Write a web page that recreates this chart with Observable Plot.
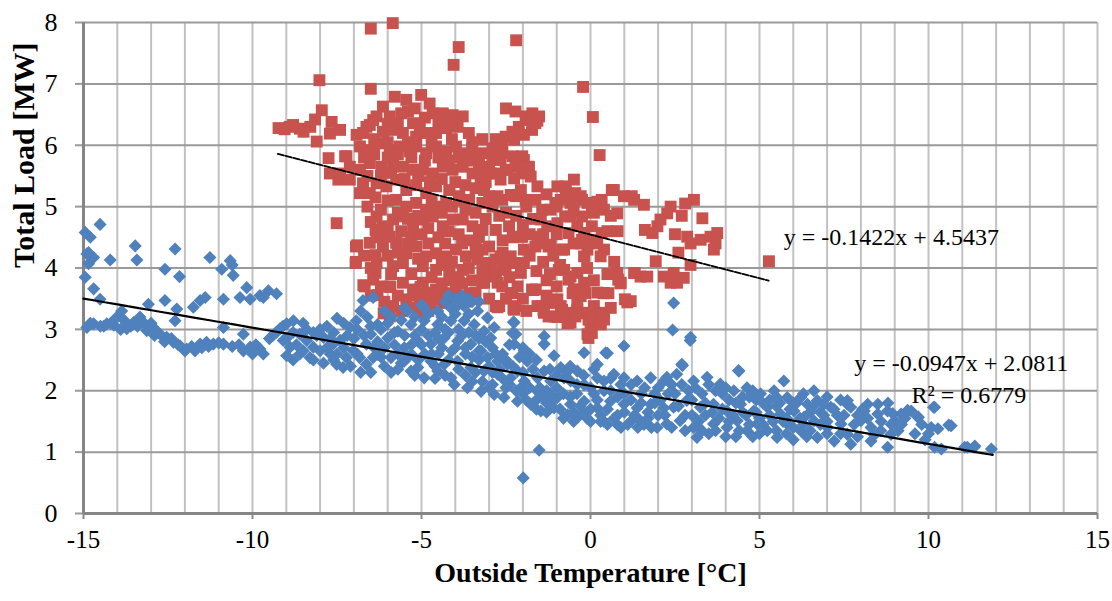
<!DOCTYPE html>
<html>
<head>
<meta charset="utf-8">
<script src="https://cdn.jsdelivr.net/npm/d3@7"></script>
<script src="https://cdn.jsdelivr.net/npm/@observablehq/plot@0.6"></script>
<style>
  html, body { margin: 0; padding: 0; background: #ffffff; }
  #chart { width: 1112px; height: 601px; }
</style>
</head>
<body>
<div id="chart"></div>
<script>
// ---- Data ----
// Series with high load (red squares): [outside temperature °C, total load MW]
const highLoadPoints = [
  [-6.5,7.9],[-5.85,7.99],[-3.9,7.6],[-4.05,7.31],[-8.02,7.06],[-6.5,6.92],[-2.2,7.71],[-0.22,6.95],[0.07,6.46],[0.27,5.84],[-2.5,6.6],
  [-9.23,6.28],[-8.9,6.3],[-8.6,6.27],[-8.49,6.22],[-8.29,6.3],[-8.15,6.42],[-7.95,6.57],[-8.1,6.06],[-7.66,6.38],[-7.41,6.25],[-7.71,6.19],[-8.8,6.33],[-9.05,6.26],
  [-7.71,5.54],[-7.46,5.44],[-7.75,5.79],[-7.22,5.82],[-7.12,5.65],[-7.51,4.73],[-6.94,4.35],[-6.94,4.1],
  [-6.92,6.17],[-6.63,6.3],[-6.43,6.41],
  [-5.79,6.79],[-5.45,6.74],[-5.01,6.82],[-4.76,6.68],[-6.14,6.63],[-6.33,6.47],[-5.94,6.47],[-5.6,6.52],[-5.25,6.36],[-5.05,6.3],[-4.67,6.52],[-4.37,6.52],[-4.08,6.49],[-3.78,6.47],[-3.93,6.3],[-4.27,6.28],[-4.57,6.2],[-4.86,6.2],[-5.16,6.14],[-5.55,6.2],[-5.84,6.25],[-6.14,6.22],[-6.53,6.33],[-6.73,6.2],
  [-2.22,6.55],[-1.92,6.47],[-1.63,6.36],[-1.73,6.25],[-2.12,6.3],[-2.31,6.22],[-2.51,6.14],[-2.61,6.03],[-1.57,6.4],[-1.82,6.41],[-1.97,6.17],[-2.26,6.09],[-1.52,6.47],[-1.72,6.52],
  [-6.82,5.98],[-6.53,5.92],[-6.24,6.03],[-5.94,5.92],[-5.65,5.98],[-5.35,5.9],[-5.16,5.98],[-4.86,5.87],[-4.57,5.98],[-4.27,5.9],[-3.98,5.98],[-3.69,5.87],[-3.39,5.82],[-3.2,5.87],[-2.9,5.82],[-2.61,5.87],[-2.31,5.82],[-2.02,5.82],[-7.26,5.82],[-3.34,5.82],[-2.66,5.76],[-1.97,5.76],
  [-7.41,5.54],[-6.82,5.6],[-6.53,5.71],[-6.19,5.65],[-5.84,5.71],[-5.55,5.65],[-5.25,5.6],[-4.96,5.6],[-4.67,5.54],[-4.37,5.65],[-4.08,5.6],[-3.78,5.65],[-3.49,5.54],[-3.2,5.6],[-3.0,5.65],[-2.8,5.54],[-2.51,5.6],[-2.22,5.65],[-2.02,5.54],[-1.82,5.65],[-2.06,5.65],[-2.46,5.6],[-2.95,5.54],
  [-7.12,5.44],[-6.73,5.38],[-6.82,5.22],[-6.53,5.22],[-6.33,5.38],[-6.04,5.33],[-5.75,5.44],[-5.45,5.27],[-5.16,5.35],[-4.86,5.22],[-4.57,5.33],[-4.18,5.27],[-3.88,5.17],[-3.59,5.11],[-3.2,5.06],[-3.0,5.17],[-2.61,5.11],[-2.22,5.17],[-1.92,5.11],[-1.63,5.11],[-1.43,4.95],[-3.25,5.44],[-2.66,5.44],[-2.26,5.46],[-1.77,5.49],[-1.57,5.33],[-2.06,5.27],[-2.36,5.19],[-2.75,5.17],[-3.15,5.27],[-6.36,5.15],
  [-0.98,5.33],[-0.73,5.25],[-0.49,5.44],[-0.88,5.11],[-0.59,5.06],[-0.29,5.17],[-0.09,5.06],[0.2,5.08],[0.4,4.95],[0.69,5.27],[0.79,4.89],[0.99,5.17],[1.29,5.11],[1.58,5.03],[2.37,5.0],[2.27,4.89],[2.07,4.79],[1.98,4.68],[1.83,4.57],[3.06,5.11],[3.31,4.81],[2.86,4.51],[2.96,4.4],[3.26,4.46],[3.55,4.51],[3.75,4.57],[3.7,4.4],[3.65,4.3],[5.28,4.11],[2.96,4.05],[1.93,4.11],
  [-1.18,4.95],[-1.47,4.79],[-1.28,4.68],[-0.98,4.73],[-0.59,4.84],[-0.39,4.68],[-0.19,4.57],[0.0,4.46],[0.2,4.4],[0.4,4.3],[-0.29,4.4],[-0.09,4.3],[0.3,4.19],[-0.19,4.19],[-0.78,4.3],[-1.18,4.38],[-1.57,4.4],[-1.52,4.51],[-2.06,4.51],[-1.97,4.3],[-2.36,4.19],[-2.66,4.19],[-2.95,4.08],[-2.56,3.97],[-2.26,4.08],[-1.97,4.08],[-2.06,3.92],[-2.16,3.7],[-2.36,3.59],[-2.75,3.76],[-3.15,3.76],[-2.95,3.92],[-3.34,4.14],
  [-0.78,3.97],[-0.59,3.86],[-0.39,3.92],[-0.19,3.76],[-0.49,3.65],[-0.29,3.54],[0.4,3.59],[0.79,3.92],[0.89,3.76],[1.19,3.46],[1.29,3.92],[1.48,3.86],[1.68,3.86],[2.17,3.86],[2.37,3.76],[2.56,3.76],[2.76,3.84],[2.46,3.92],
  [-1.62,3.65],[-1.57,3.38],[-1.38,3.27],[-1.08,3.21],[-0.88,3.38],[-0.69,3.27],[-0.59,3.11],[-0.39,3.32],[-0.19,3.27],[0.0,3.16],[0.2,3.21],[0.4,3.16],[0.3,3.08],[0.0,3.0],[-0.09,2.92],[-2.26,3.32],[-2.7,3.38],[-0.98,3.49],[-1.18,3.43],[-0.39,3.43],[0.1,3.38],
  [-6.33,4.84],[-6.14,4.68],[-5.84,4.79],[-5.55,4.84],[-5.25,4.68],[-4.96,4.79],[-4.67,4.84],[-4.37,4.68],[-4.08,4.79],[-3.78,4.79],[-3.49,4.68],[-3.2,4.62],[-2.8,4.62],[-2.41,4.68],[-2.02,4.51],[-1.63,4.35],[-1.24,4.35],[-0.84,4.3],[-6.33,4.57],[-5.94,4.51],[-5.75,5.11],[-5.45,5.0],[-5.16,5.06],[-4.86,4.95],[-4.57,5.0],[-4.27,5.06],[-6.36,4.62],
  [-6.53,4.41],[-6.14,4.35],[-5.75,4.41],[-5.45,4.24],[-5.16,4.35],[-4.86,4.19],[-4.57,4.24],[-4.27,4.19],[-3.98,4.3],[-3.69,4.19],[-3.39,4.24],[-3.1,4.08],[-2.8,4.14],[-2.51,4.03],[-2.22,4.08],[-6.33,4.08],[-5.84,4.03],[-5.55,4.08],[-4.96,4.03],[-4.57,3.97],[-4.18,3.92],[-3.78,3.97],[-6.36,4.21],[-6.9,4.37],[-6.95,4.08],[-6.36,3.92],
  [-6.43,3.81],[-5.94,3.7],[-5.55,3.76],[-5.25,3.65],[-4.96,3.76],[-4.57,3.65],[-4.27,3.59],[-3.98,3.7],[-3.59,3.59],[-3.2,3.76],[-2.9,3.86],[-2.61,3.7],[-2.31,3.59],[-1.73,3.65],[-6.68,3.7],[-5.84,3.38],[-5.45,3.49],[-5.06,3.43],[-4.67,3.49],[-4.37,3.43],[-4.96,3.27],[-5.94,3.21],[-2.8,3.38],[-2.22,3.38],[1.02,3.49],[-6.72,3.72],[-6.3,3.56],
  [-0.94,3.97],[-0.65,3.81],[-0.35,3.65],[-0.16,3.59],[-0.84,3.32],[-0.45,3.21],[-0.06,3.16],[0.24,3.11],[0.04,2.94],[-0.06,2.86],[-0.65,3.11],[-1.43,3.38],[-1.24,3.21],[0.33,3.27],[0.53,3.59],[0.82,3.81],[1.31,3.92],[1.61,4.62],[1.22,5.17],
  [-0.75,5.33],[-0.45,5.22],[-0.25,5.11],[0.04,5.0],[0.33,5.11],[0.63,5.27],[-0.25,4.84],[0.04,4.68],[0.33,4.57],[-0.25,4.46],[-0.65,4.57],[-0.75,4.84],[-1.04,5.06],
  [-5.92,3.69],[-5.03,3.69],[-4.53,3.59],[-4.23,3.47],[-4.73,3.42],[-4.05,3.53],[-6.12,3.26],[-2.75,3.36],[-2.28,3.34],[-1.69,3.64],[-1.39,3.31],[-0.98,3.2],[-0.68,3.1],[-0.38,3.26],[0.0,3.2],[0.3,3.1],[0.38,3.26],[-0.53,3.59],[0.38,3.59],[1.09,3.44],[0.89,3.75],
  [-6.7,5.8],[-6.6,5.5],[-6.4,5.85],[-6.2,5.5],[-6.0,5.8],[-5.9,5.55],[-5.7,5.85],[-5.5,5.45],[-5.3,5.8],[-5.1,5.5],[-4.9,5.75],[-4.75,5.4],[-4.5,5.8],[-4.4,5.45],[-4.2,5.75],[-4.0,5.4],[-3.9,5.8],[-3.7,5.35],[-3.6,5.75],[-3.4,5.3],[-3.3,5.7],[-3.1,5.4],
  [-6.6,5.0],[-6.5,4.75],[-6.2,4.95],[-6.0,5.1],[-6.0,4.65],[-5.7,4.9],[-5.6,4.6],[-5.4,4.8],[-5.3,4.5],[-5.1,4.85],[-5.0,4.55],[-4.8,4.65],[-4.7,5.1],[-4.5,4.5],[-4.4,4.9],[-4.2,4.6],[-4.1,5.0],[-3.9,4.55],[-3.9,5.1],[-3.7,4.95],[-3.6,4.45],[-3.4,4.9],[-3.3,4.5],[-3.1,4.8],[-2.9,5.0],[-2.7,4.85],[-2.6,4.45],[-2.5,4.9],[-2.3,4.5],[-2.2,4.85],[-2.0,4.7],[-1.9,5.0],[-1.8,4.55],[-1.7,4.8],
  [-6.7,4.2],[-6.5,4.0],[-6.2,4.5],[-6.0,4.2],[-5.9,3.9],[-5.7,4.25],[-5.4,4.4],[-5.3,3.9],[-5.1,4.15],[-4.8,4.4],[-4.7,3.85],[-4.4,4.05],[-4.3,4.4],[-4.1,4.1],[-3.9,3.85],[-3.8,4.4],[-3.6,4.0],[-3.5,3.8],[-3.4,4.4],[-3.2,4.3],[-3.2,3.95],[-3.0,4.35],[-2.8,3.95],[-2.6,4.25],[-2.4,3.85],[-1.8,4.2],[-1.6,3.95],[-1.4,4.1],[-1.2,3.9],[-1.1,4.2],[-1.0,4.55],[-0.9,4.05],
  [-6.5,3.55],[-6.2,3.7],[-6.1,3.45],[-5.7,3.55],[-5.6,3.3],[-5.3,3.35],[-5.2,3.55],[-4.9,3.6],[-4.8,3.3],[-4.4,3.75],[-4.1,3.8],[-3.8,3.75],[-3.7,3.45],[-3.4,3.6],[-3.0,3.5],[-2.5,3.5],[-2.0,3.5],[-1.9,3.3],[-1.3,3.55],
  [-6.4,6.1],[-6.0,6.35],[-5.7,6.35],[-5.4,6.55],[-5.2,6.6],[-4.9,6.45],[-4.5,6.35],[-4.2,6.35],[-3.6,6.2],[-3.5,6.05],[-3.2,6.1],[-2.8,6.1],[-2.9,5.95],[-3.5,5.95],[-4.1,6.1],[-4.7,6.05],[-5.4,6.05],[-6.0,6.05],
  [0.5,4.6],[0.6,4.85],[0.8,4.6],[0.7,4.1],[2.5,4.55],[2.6,4.25],[2.7,4.85],[2.8,5.05],[0.5,3.9],[0.1,3.8],[-0.1,4.0],[0.2,3.6],[0.6,3.35],[-1.0,3.7],[-1.3,3.8],[0.1,4.9],[-0.5,4.95],[-0.5,4.4],[-1.0,5.0],[-1.3,5.2],[-1.4,4.55]
];

// Series with low load (blue diamonds): [outside temperature °C, total load MW]
const lowLoadPoints = [
  [-14.51,4.71],[-14.95,4.58],[-14.8,4.5],[-14.9,4.23],[-14.7,4.17],[-14.85,4.07],[-14.21,4.13],[-14.95,3.85],[-14.7,3.66],[-14.51,3.49],[-13.47,4.36],[-13.42,4.13],[-12.59,3.98],[-12.29,4.31],[-12.16,3.86],[-12.59,3.47],[-12.24,3.33],[-12.29,3.14],[-13.08,3.41],[-11.26,4.17],[-10.91,3.98],[-10.66,4.12],[-10.57,3.88],[-10.86,3.49],[-11.75,3.36],[-11.55,3.47],[-11.4,3.52],[-10.37,3.52],[-10.17,3.68],[-10.07,3.49],[-9.78,3.55],[-9.53,3.63],[-9.29,3.58],[-9.68,3.52],[-10.6,4.05],[-14.85,4.25],
  [-14.9,3.03],[-14.7,3.09],[-14.31,3.09],[-14.01,3.2],[-13.87,3.3],[-13.72,3.01],[-13.52,3.11],[-13.33,3.2],[-13.13,2.98],[-12.93,3.03],[-12.73,2.92],[-12.54,2.87],[-12.34,2.79],[-12.14,2.73],[-11.95,2.68],[-11.55,2.76],[-11.36,2.79],[-11.16,2.76],[-10.86,2.76],[-10.86,3.03],[-10.27,2.92],[-10.27,2.65],[-10.07,2.71],[-9.78,2.68],[-9.68,2.6],[-14.5,3.05],[-14.1,3.07],[-13.9,3.0],[-13.6,3.05],[-12.9,2.9],[-11.8,2.72],[-11.65,2.7],[-13.0,3.1],
  [-14.8,3.1],[-14.4,3.05],[-14.2,3.1],[-13.8,3.15],[-13.4,3.05],[-13.2,3.1],[-12.8,2.95],[-12.6,2.8],[-12.4,2.85],[-12.2,2.75],[-12.0,2.65],[-11.7,2.65],[-11.5,2.7],[-11.3,2.72],[-11.0,2.78],[-10.6,2.72],[-10.4,2.75],[-10.0,2.6],[-9.9,2.75],[-9.5,2.85],[-9.3,2.95],[-9.1,3.05],
  [-9.19,3.01],[-8.99,3.09],[-8.79,3.14],[-9.09,2.82],[-8.89,2.71],[-8.99,2.57],[-8.6,2.92],[-8.4,2.82],[-8.2,2.71],[-8.3,2.54],[-8.0,2.65],[-7.7,2.6],[-7.51,2.43],[-7.32,2.38],[-7.22,2.54],[-7.02,2.65],[-7.12,3.03],[-6.93,3.14],[-6.73,3.47],[-6.43,3.52],[-6.63,2.76],[-6.43,2.54],[-6.63,2.43],[-6.83,2.54],[-7.61,2.76],[-7.9,2.87],[-7.41,2.82],[-8.6,2.6],[-8.4,3.0],[-8.1,2.9],[-7.8,3.05],[-7.6,2.95],[-7.3,3.1],[-7.0,2.85],[-8.5,3.1],[-7.9,2.45],[-7.1,2.4],[-6.8,2.3],[-6.5,2.3],[-6.3,2.8],[-6.2,3.0],[-6.5,3.05],[-6.8,3.3],[-6.6,3.2],[-7.5,3.18],[-9.4,2.9],
  [-9.0,2.85],[-8.8,2.95],[-8.7,2.75],[-8.5,2.65],[-8.2,2.95],[-8.0,3.0],[-7.8,2.7],[-7.7,2.85],[-7.5,2.6],[-7.3,2.7],[-7.2,2.9],[-6.9,2.6],[-6.9,3.0],[-6.7,2.9],[-6.4,2.7],[-6.2,2.55],[-8.2,2.5],[-7.6,2.5],[-8.8,2.5],
  [-5.41,3.3],[-4.92,3.35],[-4.52,3.3],[-4.13,3.35],[-3.74,3.38],[-3.34,3.3],[-3.05,3.19],[-2.85,3.03],[-6.3,3.08],[-6.5,2.92],[-6.0,2.86],[-5.7,2.97],[-5.31,3.08],[-4.92,3.14],[-4.52,3.08],[-4.13,3.14],[-3.74,3.14],[-3.44,3.08],[-3.15,2.97],[-2.95,2.86],[-2.26,3.11],[-2.21,2.92],[-2.26,2.76],[-1.96,2.65],[-1.87,2.48],[-5.51,2.7],[-5.11,2.81],[-4.72,2.76],[-4.33,2.86],[-3.93,2.81],[-3.54,2.76],[-3.24,2.65],[-3.05,2.54],[-2.75,2.48],[-2.46,2.43],[-2.16,2.32],
  [-6.3,2.59],[-5.9,2.54],[-5.51,2.48],[-5.11,2.38],[-4.72,2.48],[-4.33,2.43],[-3.93,2.48],[-3.54,2.38],[-3.15,2.32],[-2.75,2.27],[-2.36,2.21],[-1.96,2.16],[-1.57,2.21],[-1.37,2.32],[-1.18,2.16],[-0.78,2.21],[-0.59,2.16],[-0.39,2.32],[-0.19,2.1],[0.2,2.21],[0.4,2.16],[0.69,2.27],[0.99,2.21],[1.38,2.16],[1.78,2.21],[2.17,2.16],
  [-4.03,2.1],[-3.64,2.05],[-3.24,1.99],[-2.85,1.94],[-2.56,1.89],[-2.16,1.83],[-1.77,1.78],[-1.47,1.67],[-1.08,1.72],[-0.68,1.61],[-0.39,1.56],[0.0,1.5],[0.4,1.5],[0.79,1.45],[1.19,1.5],[1.58,1.45],[1.97,1.4],[-0.98,1.89],[-0.59,1.78],[-0.19,1.83],[0.2,1.72],[0.59,1.83],[0.99,1.78],[1.38,1.72],[1.78,1.78],[2.17,1.72],[-2.06,2.05],[-1.57,1.99],[-1.18,1.94],[-4.13,2.21],[-4.52,2.32],[-4.92,2.21],[-5.31,2.32],
  [-5.8,2.75],[-5.3,2.6],[-4.9,2.6],[-4.5,2.6],[-4.1,2.65],[-3.7,2.6],[-3.3,2.5],[-2.9,2.7],[-5.6,3.15],[-5.0,3.0],[-4.6,2.95],[-4.3,3.0],[-3.9,3.0],[-3.6,2.95],[-3.3,2.85],[-5.2,2.9],[-5.9,2.3],[-6.1,2.4],[-4.0,3.5],[-3.8,3.55],[-4.3,3.45],[-3.5,3.45],[-5.9,3.2],[-5.6,2.45],[-3.2,2.15],[-2.9,2.1],[-2.5,2.05],[-2.6,2.6],[-2.4,2.75],[-3.7,2.25],[-4.3,2.25],[-2.0,1.95],[-1.6,1.85],[-1.3,1.8],
  [-6.1,2.7],[-6.0,3.1],[-5.8,2.95],[-5.7,2.6],[-5.5,2.9],[-5.4,2.55],[-5.3,2.75],[-5.2,3.2],[-5.1,2.5],[-5.0,2.75],[-4.8,2.9],[-4.8,3.25],[-4.7,2.6],[-4.6,2.4],[-4.5,2.85],[-4.4,3.2],[-4.4,2.7],[-4.2,2.5],[-4.2,2.95],[-4.0,2.7],[-4.0,3.25],[-3.9,2.35],[-3.8,2.9],[-3.7,2.7],[-3.6,3.25],[-3.5,2.55],[-3.4,2.9],[-3.4,2.3],[-3.3,2.65],[-3.1,2.8],[-3.0,2.4],[-2.9,2.3],[-3.5,2.15],[-3.0,2.05],[-4.6,2.2],[-5.2,2.25],[-5.7,2.35],[-4.2,3.55],[-3.9,3.4],[-3.6,3.5],[-3.3,3.45],[-5.0,3.4],[-5.5,3.35],[-6.1,3.3],
  [-2.8,2.6],[-2.7,2.35],[-2.6,2.2],[-2.5,2.5],[-2.4,2.1],[-2.3,2.4],[-2.2,2.0],[-2.1,2.55],[-2.0,2.3],[-1.9,1.85],[-1.8,2.05],[-1.7,2.35],[-1.6,1.7],[-1.5,2.05],[-1.4,1.9],[-1.3,1.65],[-1.2,2.35],[-1.1,1.85],[-1.0,2.25],[-0.9,1.7],[-0.8,1.95],[-0.7,2.3],[-0.6,1.9],[-0.5,1.65],[-0.4,2.1],[-0.3,1.75],[-0.2,2.25],[0.0,1.7],[0.0,2.05],[0.1,2.35],[0.2,1.85],[0.3,1.5],[0.4,2.0],[0.5,1.7],[0.6,2.2],[0.7,1.55],[0.8,1.9],[0.9,2.1],[1.0,1.65],[1.1,1.45],[1.2,1.85],[1.2,2.1],[1.4,1.55],[1.5,1.8],[1.6,2.05],[1.7,1.65],[1.9,1.8],[2.0,2.05],[-0.5,1.5],[-0.1,1.55],[0.5,1.45],[0.9,1.4],[1.4,1.4],[1.8,1.4],[-1.8,2.6],[-2.0,2.7],[-1.6,2.5],
  [-1.52,1.03],[-1.99,0.58],[-1.08,2.57],[-1.37,2.76],[-0.88,2.38],[-0.19,2.62],[0.45,2.62],[0.99,2.73],[0.2,2.43],[-1.37,2.89],[2.46,3.43],[2.43,2.99],[2.96,2.87],[2.72,2.41],[4.38,2.33],[0.5,2.61],[-2.28,3.12],[-2.31,2.94],[-0.6,2.4],
  [-1.0,2.05],[-0.4,1.95],[0.1,1.95],[0.6,2.0],[1.0,1.95],[1.5,1.95],[1.9,1.95],[-0.8,1.55],[-0.2,1.65],[0.3,1.6],[0.8,1.6],[1.3,1.6],[1.7,1.55],[2.0,1.6],[-1.3,2.0],
  [2.26,2.22],[2.55,2.27],[3.05,2.16],[3.45,2.22],[3.84,2.11],[4.24,2.0],[4.63,2.05],[5.03,1.95],[5.43,2.0],[5.82,1.89],[6.22,1.89],[6.42,1.78],[6.71,1.84],[7.11,1.73],[7.6,1.78],[7.7,1.73],[8.05,1.7],[8.5,1.78],[8.79,1.67],[9.39,1.67],[9.69,1.57],[10.18,1.73],[10.28,1.38],[10.67,1.43],[8.0,1.51],[8.3,1.4],[8.59,1.35],[8.89,1.29],[8.79,1.08],[8.3,1.18],[7.7,1.13],[7.6,1.29],[7.21,1.18],[7.41,1.46],[7.01,1.4],[6.61,1.51],[6.71,1.24],[6.22,1.35],[5.82,1.46],[5.52,1.24],[5.23,1.35],[4.93,1.46],[4.63,1.35],[4.34,1.51],[4.04,1.4],[3.64,1.46],[3.15,1.24],[3.05,1.4],[2.65,1.51],[2.26,1.46],[10.18,1.08],[10.38,1.05],[11.07,1.08],[11.37,1.1],[11.86,1.05],[2.06,1.84],[2.46,1.73],[2.85,1.84],[3.25,1.73],[3.64,1.78],[4.04,1.67],[4.44,1.78],[4.83,1.67],[5.23,1.73],[5.62,1.62],[6.02,1.67],[6.32,1.57],[5.72,2.16],[6.61,2.0],[6.91,1.78],[7.6,1.84],[8.1,1.67],[8.5,1.62],[9.19,1.62],[9.49,1.67],[9.0,1.51],[10.08,1.4],[2.95,2.82],[2.7,2.43],[4.39,2.32],
  [2.5,1.95],[2.9,2.0],[3.3,1.95],[3.7,2.0],[4.1,1.85],[4.5,1.9],[4.9,1.85],[5.3,1.85],[5.6,1.8],[6.0,1.8],[3.0,1.6],[3.4,1.6],[3.8,1.55],[4.2,1.6],[4.6,1.6],[5.0,1.55],[5.4,1.5],[5.8,1.55],[6.2,1.55],[6.5,1.65],[6.9,1.6],[7.3,1.6],[7.9,1.6],[4.0,1.25],[4.8,1.25],[6.0,1.2],[6.5,1.35],[7.0,1.3],[3.5,1.3],[2.8,1.35],[9.6,1.3],[9.2,1.45],[9.9,1.2],[10.15,1.73],[10.6,1.44],[9.7,1.57],[9.38,1.68],[8.94,1.63],[11.15,1.08],[11.35,1.08],
  [2.2,1.6],[2.3,1.95],[2.4,1.4],[2.6,1.75],[2.7,2.1],[2.8,1.6],[3.0,1.85],[3.1,2.05],[3.2,1.5],[3.3,1.35],[3.4,1.8],[3.6,1.65],[3.7,1.35],[3.9,1.7],[3.9,1.95],[4.1,1.5],[4.3,1.8],[4.4,1.35],[4.5,1.65],[4.7,1.9],[4.7,1.45],[4.9,1.65],[5.1,1.8],[5.1,1.45],[5.3,1.6],[5.5,1.35],[5.5,1.75],[5.7,1.5],[5.9,1.7],[6.0,1.4],[6.1,1.8],[6.3,1.45],[6.4,1.25],[6.6,1.75],[6.8,1.45],[6.8,1.65],[7.0,1.5],[7.2,1.7],[7.4,1.3],[7.5,1.6],[7.8,1.45],[7.9,1.25],[8.2,1.55],[8.4,1.28],[8.6,1.5],[8.9,1.45],[9.1,1.35],[9.3,1.55],[9.8,1.45],[10.0,1.3],[5.0,1.3],[5.8,1.3],[4.3,1.25],[3.1,1.55],[2.4,2.1],[3.5,2.1],[4.0,2.05],[4.8,2.0],[5.5,1.9],[6.3,1.95],[7.0,1.9],[7.4,1.85],[8.2,1.78],[8.8,1.8]
];

// Linear trendlines (as printed on the chart)
const trendSeries = ["high", "low"];
const trendSlopes = [-0.1422, -0.0947];
const trendIntercepts = [4.5437, 2.0811];
const trendXStart = [-9.25, -15];
const trendXEnd = [5.27, 11.9];

// Labels and ticks
const trendLabels = ["y = -0.1422x + 4.5437", "y = -0.0947x + 2.0811", "R\u00B2 = 0.6779"];
const xTicks = [-15, -10, -5, 0, 5, 10, 15];
const xGridTicks = [-15,-14,-13,-12,-11,-10,-9,-8,-7,-6,-5,-4,-3,-2,-1,0,1,2,3,4,5,6,7,8,9,10,11,12,13,14,15];
const yTicks = [0, 1, 2, 3, 4, 5, 6, 7, 8];
const xTitle = "Outside Temperature [\u00B0C]";
const yTitle = "Total Load [MW]";

// ---- Build tables ----
const trendLines = trendSeries.flatMap((s, i) => [
  {series: s, x: trendXStart[i], y: trendSlopes[i] * trendXStart[i] + trendIntercepts[i]},
  {series: s, x: trendXEnd[i], y: trendSlopes[i] * trendXEnd[i] + trendIntercepts[i]}
]);
const highLine = trendLines.filter(d => d.series === "high");
const lowLine = trendLines.filter(d => d.series === "low");

const serif = "Liberation Serif";

const chart = Plot.plot({
  width: 1112,
  height: 601,
  marginLeft: 83,
  marginRight: 15,
  marginTop: 22,
  marginBottom: 88,
  style: {fontFamily: serif, fontSize: "26px", color: "#000", background: "#fff", overflow: "visible"},
  x: {domain: [-15, 15]},
  y: {domain: [0, 8]},
  marks: [
    Plot.gridX(xGridTicks, {stroke: "#c2c2c2", strokeOpacity: 1, strokeWidth: 2}),
    Plot.gridY(yTicks, {stroke: "#9a9a9a", strokeOpacity: 1, strokeWidth: 2}),
    Plot.axisY(yTicks, {tickSize: 8, stroke: "#9a9a9a", strokeWidth: 2, label: null, tickFormat: () => ""}),
    Plot.axisX(xTicks, {tickSize: 6, stroke: "#8a8a8a", strokeWidth: 2, label: null, tickFormat: () => ""}),
    Plot.text(yTicks, {y: d => d, frameAnchor: "left", dx: -26, text: d => String(d), textAnchor: "end", fontSize: 26, fontFamily: serif, fill: "#000"}),
    Plot.text(xTicks, {x: d => d, frameAnchor: "bottom", dy: 34, text: d => String(d), fontSize: 25, fontFamily: serif, fill: "#000"}),
    Plot.ruleX([-15], {stroke: "#858585", strokeWidth: 3}),
    Plot.ruleY([0], {stroke: "#858585", strokeWidth: 3}),
    Plot.dot(highLoadPoints, {x: d => d[0], y: d => d[1], symbol: "square", r: 6.7, fill: "#C8524D", stroke: "none"}),
    Plot.dot(lowLoadPoints, {x: d => d[0], y: d => d[1], symbol: "diamond2", r: 5.9, fill: "#4F81BD", stroke: "none"}),
    Plot.line(highLine, {x: "x", y: "y", stroke: "#000", strokeWidth: 2, strokeDasharray: "6,2"}),
    Plot.line(lowLine, {x: "x", y: "y", stroke: "#000", strokeWidth: 2.2, strokeDasharray: "10,1.5"}),
    Plot.text([trendLabels[0]], {x: 5.72, y: 4.5, text: d => d, textAnchor: "start", fontSize: 24, fontFamily: serif, fill: "#000"}),
    Plot.text([trendLabels[1]], {x: 7.8, y: 2.45, text: d => d, textAnchor: "start", fontSize: 24, fontFamily: serif, fill: "#000"}),
    Plot.text([trendLabels[2]], {x: 9.5, y: 1.93, text: d => d, textAnchor: "start", fontSize: 24, fontFamily: serif, fill: "#000"}),
    Plot.text([yTitle], {frameAnchor: "left", dx: -59, rotate: -90, text: d => d, fontSize: 30, fontFamily: serif, fontWeight: "bold", fill: "#000"}),
    Plot.text([xTitle], {frameAnchor: "bottom", dy: 68, text: d => d, fontSize: 28, fontFamily: serif, fontWeight: "bold", fill: "#000"})
  ]
});
document.getElementById("chart").appendChild(chart);
</script>
</body>
</html>
